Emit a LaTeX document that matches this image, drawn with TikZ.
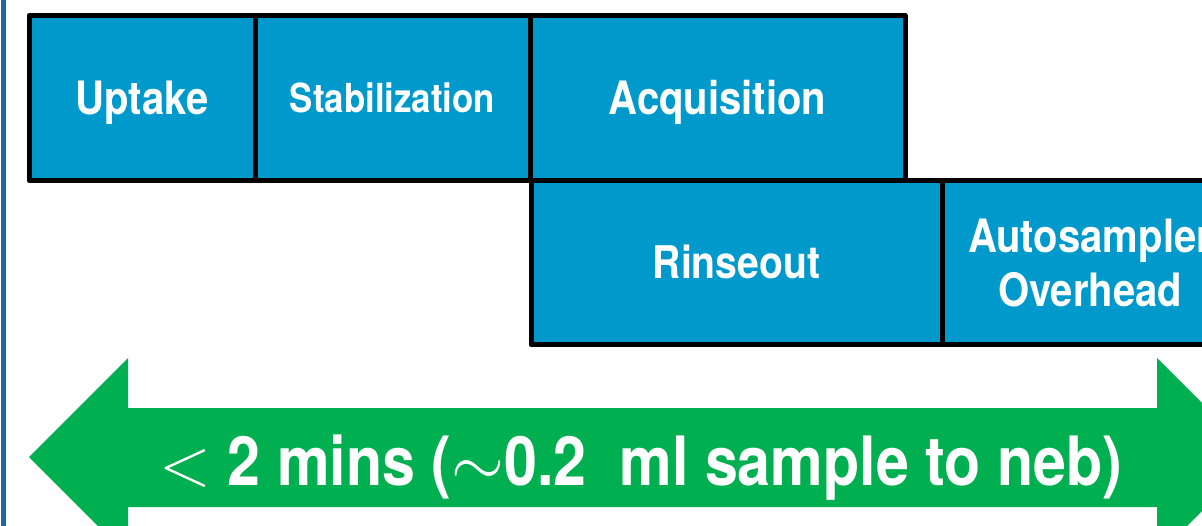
\RequirePackage{fix-cm}
\documentclass[tikz,border=0pt]{standalone}
\usepackage{fontspec}
\setmainfont{TeX Gyre Heros}[FakeStretch=0.87]
\definecolor{phaseblue}{RGB}{0,153,204}
\definecolor{spangreen}{RGB}{0,176,80}
\definecolor{railblue}{RGB}{28,105,160}

\begin{document}
\begin{tikzpicture}[x=1pt,y=-1pt,
        phase/.style={draw=black, line width=5pt, line join=round, fill=phaseblue,
            text=white, inner sep=0pt, align=center},
        bigcaps/.style={font=\bfseries\fontsize{46}{50}\selectfont, text height=33pt, text depth=0pt},
        smallcaps/.style={font=\bfseries\fontsize{40}{44}\selectfont, text height=29pt, text depth=0pt}]
        \useasboundingbox (0,0) rectangle (1202,526);
        \clip (0,0) rectangle (1202,526);

        % rail on the left edge
        \fill[railblue] (1,0) rectangle (6,526);

        % first row
        \node[phase, bigcaps, minimum width=226pt, minimum height=165pt] (uptake) at (142,98) {Uptake};
        \node[phase, smallcaps, minimum width=275pt, minimum height=165pt] (stab) at (392.5,98) {Stabilization};
        \node[phase, bigcaps, minimum width=375pt, minimum height=165pt] (acq) at (717.5,98) {Acquisition};

        % second row
        \node[phase, font=\bfseries\fontsize{45}{50}\selectfont, text height=32pt, text depth=0pt,
            minimum width=411pt, minimum height=164.5pt] (rinse) at (736.5,262.75) {Rinseout};
        \node[phase, font=\bfseries\fontsize{46}{54}\selectfont,
            minimum width=296pt, minimum height=164.5pt] (auto) at (1090,262.75) {Autosampler\\Overhead};

        % total time span
        \fill[spangreen] (29,457) -- (128,358) -- (128,408) -- (1157,408) -- (1157,358)
            -- (1256,457) -- (1157,556) -- (1157,507) -- (128,507) -- (128,556) -- cycle;
        \node[text=white, font=\bfseries\fontsize{68}{72}\selectfont, anchor=base, inner sep=0pt] (span)
            at (641,485) {$<$ 2 mins ($\sim$0.2\ \ ml sample to neb)};

    \end{tikzpicture}
\end{document}
